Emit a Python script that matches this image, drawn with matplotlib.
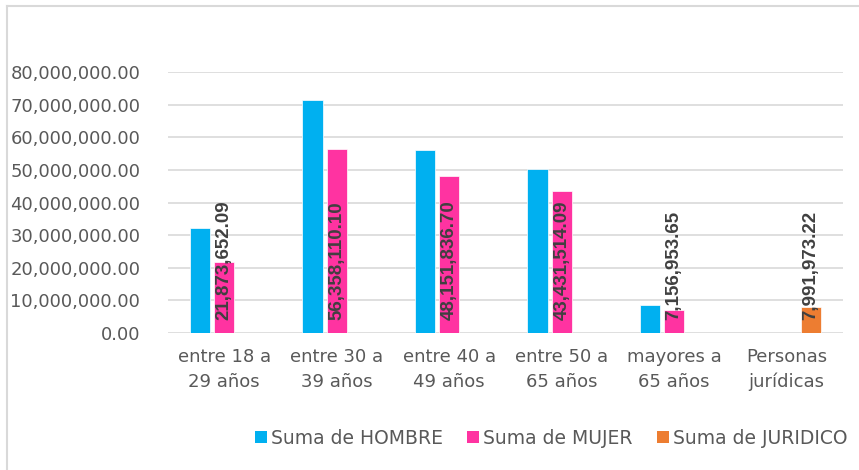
import matplotlib
matplotlib.use('Agg')
import matplotlib.pyplot as plt
import numpy as np
from matplotlib.lines import Line2D
from matplotlib.patches import Patch
from matplotlib.ticker import FuncFormatter

categorias = ['entre 18 a\n29 años', 'entre 30 a\n39 años', 'entre 40 a\n49 años',
              'entre 50 a\n65 años', 'mayores a\n65 años', 'Personas\njurídicas']
hombre = [32300000, 71400000, 56100000, 50300000, 8600000, 0]
mujer = [21873652.09, 56358110.10, 48151836.70, 43431514.09, 7156953.65, 0]
juridico = [0, 0, 0, 0, 0, 7991973.22]

series = ['Suma de HOMBRE', 'Suma de MUJER', 'Suma de JURIDICO']
colores = ['#00B0F0', '#FF33A1', '#ED7D31']

fig = plt.figure(figsize=(8.59, 4.70), dpi=100)
# marco gris (solo lados izquierdo y superior visibles)
bx, by = 6.5/859, 1 - 5.5/470
fig.add_artist(Line2D([bx, bx], [0, by], transform=fig.transFigure,
                      color='#D9D9D9', linewidth=1.5))
fig.add_artist(Line2D([bx, 1], [by, by], transform=fig.transFigure,
                      color='#D9D9D9', linewidth=1.5))

ax = fig.add_axes([168/859, 1 - 333/470, (843 - 168)/859, (333 - 72)/470])

x = np.arange(len(categorias))
w = 0.18
off = 0.215
datos = [hombre, mujer, juridico]
for i, (vals, col) in enumerate(zip(datos, colores)):
    pos = x + (i - 1) * off
    ax.bar(pos, vals, width=w, color=col, edgecolor='white', linewidth=0.5, zorder=3)
    if i > 0:
        for p, v in zip(pos, vals):
            if v > 0:
                ax.annotate(f'{v:,.2f}', (p, 0), xytext=(0, 9), textcoords='offset points',
                            rotation=90, ha='center', va='bottom', fontsize=13.5,
                            family='Liberation Sans', fontweight='bold',
                            color='#404040', zorder=4)

ax.set_xlim(-0.5, len(categorias) - 0.5)
ax.set_ylim(0, 80000000)
ax.set_yticks(np.arange(0, 80000001, 10000000))
ax.yaxis.set_major_formatter(FuncFormatter(lambda v, p: f'{v:,.2f}'))
ax.set_xticks(x)
ax.set_xticklabels(categorias, linespacing=1.45)
ax.grid(axis='y', color='#D9D9D9', linewidth=1.2, zorder=0)
for s in ax.spines.values():
    s.set_visible(False)
ax.tick_params(axis='both', length=0, labelsize=13, labelcolor='#595959')
ax.tick_params(axis='y', pad=20)
ax.tick_params(axis='x', pad=11)

handles = [Patch(facecolor=c, edgecolor='none') for c in colores]
fig.legend(handles, series, loc='center', bbox_to_anchor=(551/859, 1 - 438/470), ncol=3,
           frameon=False, fontsize=13.5, labelcolor='#595959', handlelength=0.65,
           handleheight=0.65, handletextpad=0.2, columnspacing=1.3)

fig.savefig('out.png', dpi=100)
